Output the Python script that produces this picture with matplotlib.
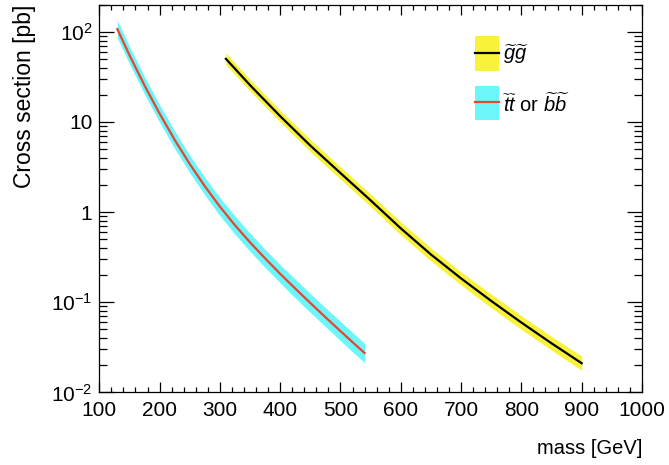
import matplotlib
matplotlib.use('Agg')
import matplotlib.pyplot as plt
from matplotlib.ticker import MultipleLocator, LogLocator, FixedLocator, FixedFormatter, NullFormatter
import numpy as np

# gluino pair
gluino_mass = [310, 350, 400, 450, 500, 550, 600, 650, 700, 750, 800, 850, 900]
gluino_xsec = [50.1, 25.6, 11.6, 5.47, 2.71, 1.35, 0.661, 0.339, 0.184, 0.1035, 0.0596, 0.0351, 0.0211]
gluino_unc = [0.16, 0.16, 0.16, 0.17, 0.17, 0.17, 0.18, 0.18, 0.18, 0.19, 0.19, 0.19, 0.20]

# stop / sbottom pair
stop_mass = [130, 150, 175, 200, 225, 250, 275, 300, 325, 350, 375, 400, 425, 450, 475, 500, 525, 540]
stop_xsec = [107, 55.2, 25.4, 12.4, 6.34, 3.42, 1.94, 1.15, 0.716, 0.462, 0.307, 0.207, 0.142,
             0.0982, 0.0684, 0.0479, 0.0337, 0.0274]
stop_unc = [0.25, 0.25, 0.25, 0.25, 0.25, 0.25, 0.25, 0.26, 0.26, 0.26, 0.26, 0.26, 0.27,
            0.27, 0.27, 0.28, 0.28, 0.28]

ytick_vals = [0.01, 0.1, 1, 10, 100]
ytick_labels = [r'$10^{-2}$', r'$10^{-1}$', '1', '10', r'$10^{2}$']

yellow = '#F8F23A'
cyan = '#6CF6FA'
red = '#E5462F'

plt.rcParams['font.family'] = 'Liberation Sans'
plt.rcParams['mathtext.fontset'] = 'custom'
plt.rcParams['mathtext.rm'] = 'Liberation Sans'
plt.rcParams['mathtext.it'] = 'Liberation Sans:italic'

fig = plt.figure(figsize=(6.69, 4.65), dpi=100)
ax = fig.add_axes([0.1484, 0.156, 0.8112, 0.834])

gm = np.array(gluino_mass)
gx = np.array(gluino_xsec)
gu = 1 + np.array(gluino_unc)
sm = np.array(stop_mass)
sx = np.array(stop_xsec)
su = 1 + np.array(stop_unc)

ax.fill_between(sm, sx / su, sx * su, color=cyan, lw=0)
ax.plot(sm, sx, color=red, lw=1.6)
ax.fill_between(gm, gx / gu, gx * gu, color=yellow, lw=0)
ax.plot(gm, gx, color='black', lw=1.6)

ax.set_yscale('log')
ax.set_xlim(100, 1000)
ax.set_ylim(0.01, 200)

ax.xaxis.set_major_locator(MultipleLocator(100))
ax.xaxis.set_minor_locator(MultipleLocator(20))
ax.yaxis.set_major_locator(FixedLocator(ytick_vals))
ax.yaxis.set_major_formatter(FixedFormatter(ytick_labels))
ax.yaxis.set_minor_locator(LogLocator(base=10, subs=np.arange(2, 10)))
ax.yaxis.set_minor_formatter(NullFormatter())

ax.tick_params(which='both', direction='in', top=True, right=True, width=0.9, labelsize=15)
ax.tick_params(axis='x', which='major', length=7, pad=6)
ax.tick_params(axis='x', which='minor', length=3.6)
ax.tick_params(axis='y', which='major', length=11, pad=5)
ax.tick_params(axis='y', which='minor', length=5.8)
for s in ax.spines.values():
    s.set_linewidth(0.9)

ax.set_xlabel('mass [GeV]', fontsize=14.5, loc='right', labelpad=14)
ax.set_ylabel('Cross section [pb]', fontsize=16.5, loc='top', labelpad=11)

# legend drawn by hand, ROOT style
lx0, lx1 = 0.692, 0.737
ax.fill_between([lx0, lx1], [0.829, 0.829], [0.92, 0.92], transform=ax.transAxes, color=yellow, lw=0)
ax.plot([lx0, lx1], [0.876, 0.876], transform=ax.transAxes, color='black', lw=1.6)
ax.text(0.744, 0.872, r'$\widetilde{g}\widetilde{g}$', transform=ax.transAxes, fontsize=14.5, va='center')
ax.fill_between([lx0, lx1], [0.702, 0.702], [0.791, 0.791], transform=ax.transAxes, color=cyan, lw=0)
ax.plot([lx0, lx1], [0.748, 0.748], transform=ax.transAxes, color=red, lw=1.6)
ax.text(0.744, 0.744, r'$\widetilde{t}\widetilde{t}$ or $\widetilde{b}\widetilde{b}$', transform=ax.transAxes,
        fontsize=14.5, va='center')

plt.savefig('out.png', dpi=100)
plt.close()
